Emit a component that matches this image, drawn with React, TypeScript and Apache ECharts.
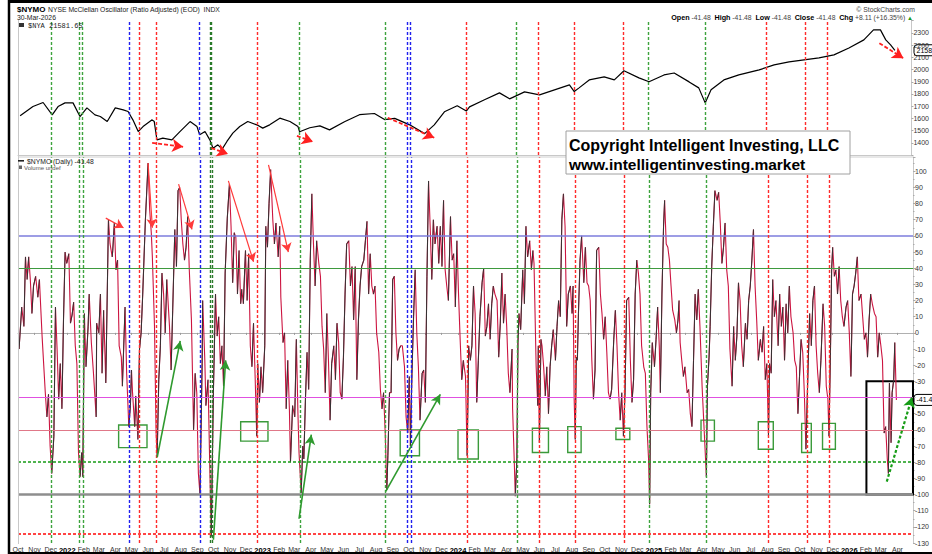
import React, { useEffect, useRef } from "react";
import * as echarts from "echarts";

// ---------- data ----------
// day numbers are calendar days counted from 2022-01-01 (day 0)
const DAY_MS = 86400000;
const DAY0 = Date.UTC(2022, 0, 1);
const toTime = (d: number) => DAY0 + d * DAY_MS;

const axisStartDay = -92; // 2021-10-01
const axisEndDay = 1580; // 2026-04-30

const MONTHS = ["Jan", "Feb", "Mar", "Apr", "May", "Jun", "Jul", "Aug", "Sep", "Oct", "Nov", "Dec"];

// $NYA (NYSE Composite) closes, [day, index points]
const nyaSeries: [number, number][] = [
  [-88, 16210], [-64, 16970], [-45, 17300], [-28, 16290], [-17, 16970], [-4, 17270], [11, 17270],
  [24, 16150], [37, 16860], [52, 16290], [62, 16150], [75, 15740], [90, 16860], [105, 16700],
  [114, 16560], [123, 15880], [133, 14920], [142, 15330], [159, 15880], [163, 15740], [168, 14240],
  [179, 14380], [196, 14240], [211, 14920], [230, 15740], [243, 15330], [248, 14650], [258, 14920],
  [267, 14240], [273, 13560], [282, 13830], [290, 13480], [299, 14110], [310, 14790], [323, 15330],
  [338, 15740], [355, 15470], [366, 15200], [379, 15470], [398, 16020], [417, 15740], [432, 15330],
  [435, 14900], [454, 15230], [473, 15390], [491, 15060], [519, 15720], [547, 16300], [575, 16400],
  [594, 15900], [613, 16000], [641, 15470], [669, 14750], [687, 15470], [706, 16540], [730, 17030],
  [747, 16600], [753, 16940], [781, 17520], [809, 18090], [828, 17600], [856, 18170], [884, 17930],
  [912, 18340], [940, 18740], [949, 18200], [958, 18500], [977, 19150], [1005, 19400], [1024, 19150],
  [1042, 19900], [1070, 19320], [1089, 19000], [1117, 19560], [1136, 19720], [1164, 18990],
  [1182, 18500], [1194, 17270], [1205, 18340], [1229, 19150], [1257, 19560], [1295, 19970],
  [1323, 20380], [1351, 20630], [1379, 20790], [1407, 20950], [1435, 21200], [1463, 21770],
  [1491, 22430], [1509, 23250], [1522, 23250], [1532, 22430], [1541, 22020], [1549, 21581.65],
];

// $NYMO McClellan Oscillator, [day, value]
const nymoSeries: [number, number][] = [
  [-90, -10], [-85, 16], [-81, 4], [-78, 47], [-75, 33], [-72, 47], [-69, 33], [-66, 12], [-63, 29],
  [-59, 35], [-55, 22], [-52, 33], [-47, -2], [-41, -37], [-38, -52], [-35, -38], [-32, -70], [-29, -87],
  [-25, -64], [-22, 16], [-19, -10], [-16, -41], [-13, -19], [-10, -47], [-7, 8], [-4, 50], [-1, 43],
  [3, 49], [6, 6], [9, 11], [12, 19], [15, -8], [18, -19], [21, -74], [24, -89], [27, -74], [29, -89],
  [32, 12], [35, -21], [39, 4], [41, 24], [45, -6], [49, -25], [54, -52], [55, 6], [59, 0], [62, 24],
  [65, -25], [68, 14], [72, -31], [77, 70], [80, 55], [84, 47], [85, 51], [88, 68], [91, 39], [94, 45],
  [97, -8], [101, -15], [103, -33], [108, 16], [111, -25], [115, -58], [118, -45], [120, -23], [122, -37],
  [126, -58], [128, -39], [132, -66], [135, -10], [138, 0], [141, 24], [146, 70], [151, 105], [154, 76],
  [157, 62], [159, 47], [163, 4], [166, -62], [168, -76], [171, -29], [174, -8], [177, 37], [180, 24],
  [183, 0], [186, 33], [191, 4], [194, -23], [197, 14], [201, 64], [204, 41], [207, 88], [210, 90],
  [213, 70], [216, 55], [219, 45], [222, 53], [225, 72], [228, 39], [232, 8], [236, -60], [239, -25],
  [242, -37], [245, -87], [248, -100], [252, -19], [253, 20], [257, -17], [259, -45], [263, -29],
  [266, -78], [269, -126], [273, -37], [277, 24], [280, -2], [283, 10], [286, -19], [289, -8], [292, -33],
  [295, 37], [299, 71], [303, 92], [306, 66], [309, 31], [312, 62], [315, 59], [318, 24], [321, 51],
  [324, 18], [326, 27], [329, 18], [333, 51], [336, 20], [339, 49], [342, -8], [345, -21], [348, 6],
  [351, -27], [354, -64], [356, -19], [359, -43], [362, -21], [365, -37], [369, -8], [371, 66], [374, 53],
  [377, 80], [380, 101], [384, 70], [387, 55], [390, 68], [394, 47], [397, 66], [399, 22], [403, -6],
  [406, 0], [409, -47], [412, -17], [415, -47], [417, -80], [421, -45], [425, -52], [428, -4], [431, -50],
  [433, -74], [437, -99], [440, -70], [442, -78], [445, -41], [448, -12], [451, -35], [454, 45], [457, 86],
  [460, 55], [463, 29], [466, 57], [470, 43], [473, 35], [476, 4], [479, -10], [482, -37], [485, 12],
  [488, -17], [491, -54], [494, -19], [498, -8], [501, -29], [504, 6], [507, -6], [510, -37], [513, -41],
  [516, -15], [519, 24], [522, 55], [526, 57], [529, 29], [532, 41], [535, 8], [538, 41], [541, -29],
  [544, 8], [547, 29], [550, 41], [554, 45], [557, 57], [560, 69], [563, 24], [566, 49], [569, 29],
  [572, 24], [575, 29], [578, 0], [582, -12], [585, -35], [588, -47], [591, -37], [594, -62], [597, -97],
  [599, -76], [602, -37], [605, -37], [608, 33], [611, 35], [614, 0], [617, -17], [620, -10], [623, -8],
  [626, -8], [630, -21], [633, -52], [636, -62], [639, -27], [641, -70], [644, -25], [647, 10], [650, 39],
  [653, 0], [656, -21], [659, -54], [663, -25], [666, -23], [669, -43], [672, 35], [675, 94], [678, 66],
  [681, 33], [684, 70], [687, 55], [691, 66], [694, 43], [697, 66], [700, 41], [703, 82], [706, 39],
  [709, 29], [712, 20], [716, 72], [719, 45], [722, 49], [725, 16], [728, 57], [731, 24], [734, -4],
  [737, -29], [740, -17], [744, -27], [747, -76], [750, -8], [753, -17], [756, -8], [759, 29], [762, 12],
  [765, -43], [768, -17], [771, 10], [775, 31], [778, 40], [781, -2], [784, 4], [787, 18], [790, -4],
  [793, 18], [796, 29], [799, 24], [803, 20], [806, -15], [809, 6], [812, 37], [815, 6], [818, 24],
  [821, 4], [824, -25], [827, -37], [831, -10], [832, -47], [835, -78], [837, -101], [840, -78], [842, -6],
  [844, 12], [847, 2], [851, 39], [854, 18], [857, 66], [860, 47], [864, 57], [867, 39], [870, 51],
  [872, 43], [876, -21], [879, -45], [880, -8], [882, -68], [885, -4], [887, -8], [890, -21], [893, -39],
  [896, -21], [899, -50], [902, -21], [905, -8], [908, 2], [912, -17], [915, 4], [918, 20], [921, 10],
  [924, 70], [927, 86], [930, 66], [933, 4], [936, 24], [940, 29], [943, 12], [945, 29], [947, -41],
  [949, -66], [951, -15], [953, -17], [955, 12], [958, 45], [961, 60], [965, 31], [968, 53], [971, 31],
  [974, 29], [977, 20], [980, -17], [983, -41], [986, -23], [989, 51], [993, 53], [996, 24], [999, 12],
  [1002, -4], [1005, 10], [1008, -12], [1011, -37], [1014, -41], [1017, -35], [1021, -4], [1024, 14],
  [1027, -8], [1030, -37], [1033, -54], [1036, -37], [1039, -64], [1042, -37], [1045, 20], [1049, 22],
  [1052, -17], [1055, -43], [1058, -29], [1061, 24], [1064, 45], [1067, 37], [1070, 24], [1073, -8],
  [1077, -21], [1080, -25], [1083, -58], [1086, -78], [1088, -106], [1090, -37], [1093, -6], [1097, -21],
  [1100, -4], [1103, 16], [1106, -8], [1108, -37], [1111, 24], [1114, 66], [1116, 82], [1119, 55],
  [1122, 53], [1125, 45], [1128, 29], [1131, 14], [1135, 8], [1138, 0], [1141, 8], [1143, 20], [1145, -6],
  [1148, -17], [1151, -27], [1154, -21], [1158, -37], [1161, -35], [1164, -50], [1167, -58], [1170, -17],
  [1173, 24], [1176, 8], [1179, 27], [1182, 4], [1186, -33], [1189, -54], [1194, -89], [1196, -33],
  [1199, -15], [1201, 4], [1204, 41], [1207, 66], [1210, 88], [1214, 82], [1217, 87], [1220, 68],
  [1223, 43], [1226, 53], [1229, 68], [1232, 39], [1235, 29], [1238, -10], [1242, -33], [1245, 4],
  [1248, -17], [1251, -2], [1254, 31], [1257, 20], [1260, -8], [1263, -21], [1267, 6], [1270, -4],
  [1273, 20], [1276, 29], [1279, 45], [1282, 64], [1285, 29], [1288, 8], [1291, -17], [1295, -4],
  [1298, -12], [1301, 4], [1304, -29], [1307, -19], [1310, -64], [1312, -19], [1315, -25], [1318, 33],
  [1321, 10], [1324, 20], [1328, -8], [1331, 24], [1334, 4], [1337, 16], [1340, -17], [1343, 18],
  [1346, 0], [1349, 29], [1352, 10], [1356, 0], [1359, -17], [1362, -21], [1365, -50], [1368, -27],
  [1371, -4], [1374, -12], [1377, -37], [1380, -72], [1384, -21], [1387, 12], [1390, -8], [1393, 20],
  [1396, 29], [1399, -8], [1402, -25], [1405, -37], [1408, -17], [1412, 18], [1415, 4], [1418, -33],
  [1421, -41], [1423, -64], [1426, -8], [1428, 39], [1430, 53], [1433, 35], [1436, 39], [1439, 24],
  [1442, 41], [1445, 20], [1448, 10], [1451, 4], [1455, 16], [1458, 20], [1461, 0], [1464, -27],
  [1467, 24], [1470, 29], [1473, 37], [1476, 47], [1479, 20], [1483, 24], [1486, 10], [1489, -4],
  [1492, 0], [1495, -15], [1498, 8], [1501, 24], [1504, 18], [1508, 12], [1511, 10], [1514, -15],
  [1517, 0], [1520, -8], [1523, -17], [1526, -62], [1529, -58], [1532, -78], [1534, -87], [1536, -31],
  [1539, -68], [1541, -37], [1544, -29], [1546, -6], [1549, -41.48],
];

const nyaLast = 21581.65;
const nymoLast = -41.48;

// horizontal reference levels of the oscillator panel
const nymoLevels = [60, 40, -40, -60, -80, -100, -124];

// vertical marker dates (days from 2022-01-01)
const redLineDays = [134, 166, 355, 747, 882, 949, 1040, 1309, 1382, 1423];
const greenLineDays = [-29, 23, 29, 435, 595, 840, 1088, 1194];
const darkGreenLineDays = [267, 270];
const blueLineDays = [116, 248, 636, 643];

// annotations: [startDay, startValue, endDay, endValue]
const priceArrows = [
  [159, 14000, 217, 13670], [270, 13570, 301, 13080], [430, 14570, 460, 14080],
  [600, 16050, 687, 14410], [1520, 22160, 1565, 20930],
];
const nymoRedArrows = [
  [72, 71, 105, 65], [151, 105, 159, 65], [208, 92, 233, 64], [301, 94, 348, 44], [376, 104, 413, 50],
];
const nymoGreenArrows = [
  [168, -77, 211, -5], [273, -128, 296, -17], [433, -115, 456, -63], [595, -98, 697, -38],
];
const nymoDottedArrows = [[1531, -92, 1578, -40]];
// boxes: [startDay, endDay, topValue, bottomValue]
const nymoGreenBoxes = [
  [96, 149, -57, -71], [324, 375, -55, -67], [622, 658, -60, -76], [730, 768, -60, -78],
  [869, 899, -59, -74], [935, 960, -58, -74], [1025, 1051, -59, -66], [1184, 1209, -54, -67],
  [1291, 1319, -55, -72], [1372, 1390, -56, -74], [1411, 1435, -56, -72],
];
const nymoBlackBoxes = [[1493, 1590, -30, -100]];

// ---------- styling ----------
const FONT = '"Liberation Sans", Arial, Helvetica, sans-serif';
const levelStyles = [
  { color: "#7c7cdc", width: 1.5, type: "solid" },
  { color: "#3e9a3e", width: 1.2, type: "solid" },
  { color: "#e050e0", width: 1.2, type: "solid" },
  { color: "#e07888", width: 1.2, type: "solid" },
  { color: "#169c16", width: 1.5, type: [3, 2] },
  { color: "#8e8e8e", width: 2.5, type: "solid" },
  { color: "#ff4444", width: 2, type: [3, 2] },
];

function vLineData() {
  const mk = (days: number[], color: string) =>
    days.map((d) => ({ xAxis: toTime(d), lineStyle: { color, width: 1.4, type: [3, 2] } }));
  return [
    ...mk(redLineDays, "#ff2b2b"),
    ...mk(greenLineDays, "#3da33d"),
    ...mk(darkGreenLineDays, "#2a7a2a"),
    ...mk(blueLineDays, "#2020ee"),
  ];
}

function arrowData(list: number[][]) {
  return list.map((a) => [{ coord: [toTime(a[0]), a[1]] }, { coord: [toTime(a[2]), a[3]] }]);
}
function boxData(list: number[][]) {
  return list.map((b) => [{ coord: [toTime(b[0]), b[2]] }, { coord: [toTime(b[1]), b[3]] }]);
}

function buildOption() {
  const nyaData = nyaSeries.map(([d, v]) => [toTime(d), v]);
  const nymoData = nymoSeries.map(([d, v]) => [toTime(d), v]);
  const rising: any[] = [];
  for (let i = 0; i < nymoSeries.length - 1; i++) {
    if (nymoSeries[i + 1][1] > nymoSeries[i][1]) {
      rising.push({ coords: [nymoData[i], nymoData[i + 1]] });
    }
  }
  const xBase = {
    type: "time",
    min: toTime(axisStartDay),
    max: toTime(axisEndDay),
    splitLine: { show: false },
  };
  return {
    animation: false,
    useUTC: true,
    backgroundColor: "#ffffff",
    textStyle: { fontFamily: FONT },
    grid: [
      { left: 18, right: 19, top: 20, height: 135 },
      { left: 18, right: 19, top: 157, bottom: 10 },
    ],
    xAxis: [
      {
        ...xBase,
        gridIndex: 0,
        axisLabel: { show: false },
        axisTick: { show: false },
        axisLine: { show: true, lineStyle: { color: "#c8c8c8", width: 1 } },
      },
      {
        ...xBase,
        gridIndex: 1,
        splitNumber: 56,
        minInterval: 28 * DAY_MS,
        maxInterval: 31 * DAY_MS,
        axisLine: { show: true, lineStyle: { color: "#b0b0b0", width: 1 } },
        axisTick: { show: true, length: 2, lineStyle: { color: "#999" } },
        axisLabel: {
          show: true,
          interval: 0,
          hideOverlap: false,
          fontSize: 7,
          color: "#333",
          margin: 3,
          fontFamily: FONT,
          formatter: (val: number) => {
            const d = new Date(val);
            if (d.getUTCDate() !== 1) return "";
            const m = d.getUTCMonth();
            return m === 0 ? `{yr|${d.getUTCFullYear()}}` : MONTHS[m];
          },
          rich: { yr: { fontWeight: "bold", fontSize: 7.5, color: "#000", fontFamily: FONT } },
        },
      },
    ],
    yAxis: [
      {
        type: "value",
        gridIndex: 0,
        position: "right",
        min: 13000,
        max: 24060,
        interval: 1000,
        showMaxLabel: false,
        splitLine: { show: false },
        axisLine: { show: true, lineStyle: { color: "#c8c8c8" } },
        axisTick: { show: true, length: 2, lineStyle: { color: "#aaa" } },
        axisLabel: {
          fontSize: 7,
          color: "#333",
          margin: 2,
          fontFamily: FONT,
          // labels read as the first four digits, as shown on the reference
          formatter: (v: number) => (v >= 14000 && v <= 23000 ? String(v / 10) : ""),
        },
      },
      {
        type: "value",
        gridIndex: 1,
        position: "right",
        min: -130,
        max: 108.8,
        interval: 10,
        showMaxLabel: false,
        splitLine: { show: false },
        minorTick: { show: true, splitNumber: 2, length: 1.5, lineStyle: { color: "#aaa" } },
        axisLine: { show: true, lineStyle: { color: "#c8c8c8" } },
        axisTick: { show: true, length: 2.5, lineStyle: { color: "#aaa" } },
        axisLabel: {
          fontSize: 7,
          color: "#333",
          margin: 2,
          fontFamily: FONT,
          // -40 is hidden under the last-value tag on the reference
          formatter: (v: number) => (Number.isInteger(v) && v <= 100 && v !== -40 ? String(v) : ""),
        },
      },
    ],
    series: [
      {
        type: "line",
        xAxisIndex: 0,
        yAxisIndex: 0,
        data: [],
        z: 1,
        silent: true,
        markLine: { silent: true, symbol: ["none", "none"], label: { show: false }, data: vLineData() },
      },
      {
        type: "line",
        xAxisIndex: 1,
        yAxisIndex: 1,
        data: [],
        z: 1,
        silent: true,
        markLine: {
          silent: true,
          symbol: ["none", "none"],
          label: { show: false },
          data: [
            ...nymoLevels.map((lv, i) => ({ yAxis: lv, lineStyle: levelStyles[i] })),
            ...vLineData(),
          ],
        },
      },
      {
        name: "$NYA",
        type: "line",
        xAxisIndex: 0,
        yAxisIndex: 0,
        data: nyaData,
        showSymbol: false,
        z: 3,
        lineStyle: { color: "#000", width: 1.2 },
      },
      {
        name: "$NYMO",
        type: "line",
        xAxisIndex: 1,
        yAxisIndex: 1,
        data: nymoData,
        showSymbol: false,
        z: 3,
        lineStyle: { color: "#cc1440", width: 1.1 },
      },
      {
        type: "lines",
        coordinateSystem: "cartesian2d",
        xAxisIndex: 1,
        yAxisIndex: 1,
        z: 4,
        silent: true,
        data: rising,
        lineStyle: { color: "#333", width: 1, opacity: 1 },
      },
      {
        type: "line",
        xAxisIndex: 0,
        yAxisIndex: 0,
        data: [],
        z: 6,
        markLine: {
          silent: true,
          symbol: ["none", "arrow"],
          symbolSize: [10, 11],
          label: { show: false },
          lineStyle: { color: "#ff2020", width: 1.8, type: [4, 2] },
          data: arrowData(priceArrows),
        },
      },
      {
        type: "line",
        xAxisIndex: 1,
        yAxisIndex: 1,
        data: [],
        z: 6,
        markLine: {
          silent: true,
          symbol: ["none", "arrow"],
          symbolSize: [8, 9],
          label: { show: false },
          lineStyle: { color: "#ff3a3a", width: 1.2, type: "solid" },
          data: arrowData(nymoRedArrows),
        },
        markArea: {
          silent: true,
          label: { show: false },
          itemStyle: { color: "rgba(0,0,0,0)", borderColor: "#3a9a3a", borderWidth: 1.4 },
          data: boxData(nymoGreenBoxes),
        },
      },
      {
        type: "line",
        xAxisIndex: 1,
        yAxisIndex: 1,
        data: [],
        z: 6,
        markLine: {
          silent: true,
          symbol: ["none", "arrow"],
          symbolSize: [8, 10],
          label: { show: false },
          lineStyle: { color: "#2f9a2f", width: 1.6, type: "solid" },
          data: arrowData(nymoGreenArrows),
        },
        markArea: {
          silent: true,
          label: { show: false },
          itemStyle: { color: "rgba(0,0,0,0)", borderColor: "#000", borderWidth: 2 },
          data: boxData(nymoBlackBoxes),
        },
      },
      {
        type: "line",
        xAxisIndex: 1,
        yAxisIndex: 1,
        data: [],
        z: 6,
        markLine: {
          silent: true,
          symbol: ["none", "arrow"],
          symbolSize: [9, 10],
          label: { show: false },
          lineStyle: { color: "#169c16", width: 2.2, type: [3, 2] },
          data: arrowData(nymoDottedArrows),
        },
      },
    ],
  };
}

function staticGraphics() {
  const txt = (x: number, y: number, text: string, o: any = {}, z = 50) => ({
    type: "text",
    x,
    y,
    z,
    style: {
      text,
      fontFamily: FONT,
      fontSize: 7,
      fill: "#333",
      verticalAlign: "middle",
      ...o,
    },
  });
  return [
    // outer frame
    { type: "line", z: 60, shape: { x1: 8, y1: 1.5, x2: 932, y2: 1.5 }, style: { stroke: "#000", lineWidth: 3 } },
    { type: "line", z: 60, shape: { x1: 9, y1: 0, x2: 9, y2: 554 }, style: { stroke: "#000", lineWidth: 2.5 } },
    { type: "line", z: 60, shape: { x1: 8, y1: 553, x2: 932, y2: 553 }, style: { stroke: "#000", lineWidth: 2 } },
    // left edge of the plot panels and panel divider
    { type: "line", z: 40, shape: { x1: 18.5, y1: 20, x2: 18.5, y2: 544 }, style: { stroke: "#c8c8c8", lineWidth: 1 } },
    { type: "line", z: 40, shape: { x1: 18, y1: 157, x2: 913, y2: 157 }, style: { stroke: "#d0d0d0", lineWidth: 1 } },
    // header
    txt(17, 9.5, "$NYMO", { fontWeight: "bold", fontSize: 8, fill: "#000" }),
    txt(48, 9.5, "NYSE McClellan Oscillator (Ratio Adjusted) (EOD)  INDX", { fontSize: 6.8, fill: "#222" }),
    txt(17, 17.5, "30-Mar-2026", { fontSize: 6.8, fill: "#222" }),
    txt(915, 9.5, "© StockCharts.com", { fontSize: 6.8, fill: "#444", align: "right" }),
    txt(
      913,
      17.5,
      "{b|Open} -41.48  {b|High} -41.48  {b|Low} -41.48  {b|Close} -41.48  {b|Chg} +8.11 (+16.35%) {g|▲}",
      {
        align: "right",
        fontSize: 6.8,
        fill: "#444",
        rich: {
          b: { fontWeight: "bold", fontSize: 7.2, fill: "#000", fontFamily: FONT },
          g: { fontSize: 6, fill: "#1a9a1a", fontFamily: FONT },
        },
      }
    ),
    // price legend
    { type: "rect", z: 50, shape: { x: 19, y: 23, width: 5, height: 4 }, style: { fill: "#333" } },
    txt(28, 25.5, "$NYA 21581.65", { fontFamily: '"Liberation Mono", "DejaVu Sans Mono", monospace', fontSize: 7, fill: "#222" }),
    // oscillator legend
    { type: "rect", z: 50, shape: { x: 18, y: 160, width: 6, height: 1.6 }, style: { fill: "#222" } },
    txt(27, 161, "$NYMO (Daily) -41.48", { fontSize: 6.8, fill: "#222" }),
    { type: "rect", z: 50, shape: { x: 19, y: 165.5, width: 3, height: 3.5 }, style: { fill: "#666" } },
    txt(24, 167.5, "Volume undef", { fontSize: 6, fill: "#555" }),
    // copyright box
    {
      type: "rect",
      z: 70,
      shape: { x: 566, y: 131, width: 284, height: 43 },
      style: { fill: "#fff", stroke: "#a0a0a0", lineWidth: 1 },
    },
    txt(569, 145, "Copyright Intelligent Investing, LLC", { fontSize: 16, fontWeight: "bold", fill: "#000" }, 71),
    txt(569, 164.5, "www.intelligentinvesting.market", { fontSize: 15.5, fontWeight: "bold", fill: "#000" }, 71),
  ];
}

function valueTag(y: number, text: string) {
  return {
    type: "group",
    x: 914,
    y,
    z: 65,
    children: [
      { type: "rect", shape: { x: 0, y: -5.5, width: 22, height: 11, r: 3 }, style: { fill: "#fff", stroke: "#000", lineWidth: 1 } },
      { type: "text", x: 2.5, y: 0, style: { text, fontFamily: FONT, fontSize: 7, fill: "#000", verticalAlign: "middle" } },
    ],
  };
}

export default function App() {
  const ref = useRef<HTMLDivElement>(null);
  useEffect(() => {
    if (!ref.current) return;
    const chart = echarts.init(ref.current, null, { renderer: "svg" });
    chart.setOption(buildOption() as any);
    const yNya = chart.convertToPixel({ yAxisIndex: 0 } as any, nyaLast) as unknown as number;
    const yNymo = chart.convertToPixel({ yAxisIndex: 1 } as any, nymoLast) as unknown as number;
    chart.setOption({
      graphic: [...staticGraphics(), valueTag(yNya, "2158"), valueTag(yNymo, "-41.4")],
    } as any);
    return () => chart.dispose();
  }, []);
  return <div ref={ref} style={{ position: "fixed", left: 0, top: 0, width: 932, height: 554 }} />;
}
